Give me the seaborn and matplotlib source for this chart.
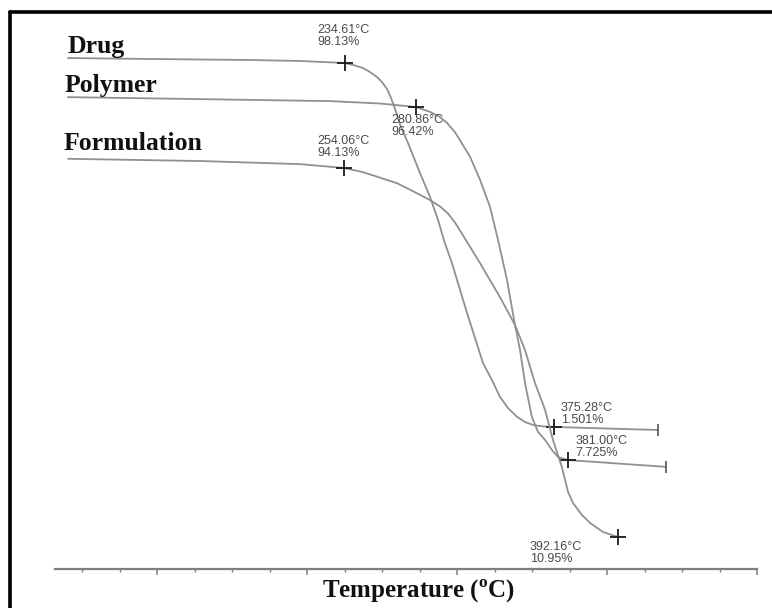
import matplotlib
matplotlib.use("Agg")
import matplotlib.pyplot as plt
from matplotlib.lines import Line2D
from matplotlib.ticker import MultipleLocator
import seaborn as sns

sns.set_style("white")
plt.rcParams["font.family"] = ["Liberation Sans", "DejaVu Sans"]
plt.rcParams["mathtext.fontset"] = "custom"
plt.rcParams["mathtext.rm"] = "Liberation Serif:bold"
plt.rcParams["mathtext.bf"] = "Liberation Serif:bold"

# ---- thermogram data (temperature in degC, residual mass in %) ----
drug_temp = [48.2, 103.4, 170.7, 204.3, 234.61, 241.3, 246.7, 251.4, 256.1, 259.5,
             262.9, 265.6, 268.3, 272.3, 277.0, 285.1, 291.8, 297.2, 301.2, 306.6,
             316.7, 327.5, 333.5, 338.9, 344.3, 350.4, 355.8, 361.1, 367.9, 375.28,
             445.3]
drug_mass = [99.45, 99.19, 98.92, 98.66, 98.13, 97.46, 96.80, 95.74, 94.41, 93.08,
             91.22, 88.83, 85.91, 81.1, 76.9, 68.9, 62.6, 56.5, 51.1, 45.0,
             31.8, 18.5, 13.97, 9.5, 6.54, 4.2, 2.82, 2.03, 1.65, 1.501,
             0.7]

polymer_temp = [50.8, 138.1, 224.0, 257.1, 280.86, 290.1, 296.7, 301.4, 306.6, 309.9,
                316.6, 323.2, 329.8, 335.1, 341.0, 346.3, 349.6, 352.9, 357.5, 361.5,
                366.1, 370.8, 374.7, 381.00, 446.1]
polymer_mass = [98.9, 98.4, 97.9, 97.3, 96.42, 95.2, 93.9, 92.4, 90.1, 88.1,
                83.9, 78.1, 71.3, 63.0, 53.0, 41.6, 35.4, 27.1, 18.5, 14.8,
                12.8, 10.2, 8.5, 7.725, 6.0]

formulation_temp = [115.0, 181.5, 231.9, 254.06, 263.6, 280.8, 288.8, 297.4, 302.5, 306.5,
                    310.0, 313.0, 316.1, 322.6, 332.7, 340.3, 345.3, 350.3, 355.4, 359.4,
                    363.9, 367.0, 369.5, 374.0, 378.1, 384.6, 392.16]
formulation_mass = [96.2, 95.7, 95.0, 94.13, 93.2, 90.7, 88.9, 86.9, 85.45, 83.87,
                    81.84, 79.7, 77.44, 72.7, 65.0, 58.7, 53.1, 45.7, 39.6, 32.8,
                    26.7, 21.1, 18.6, 15.9, 14.1, 12.07, 10.95]

# onset / end points marked on each thermogram
drug_onset = (234.61, 98.13)
drug_end = (375.28, 1.501)
polymer_onset = (280.86, 96.42)
polymer_end = (381.00, 7.725)
formulation_onset = (254.06, 94.13)
formulation_end = (392.16, 10.95)

# each thermogram is overlaid with its own temperature / mass scaling
drug_xlim, drug_ylim = (39.42, 511.92), (-36.20, 109.54)
polymer_xlim, polymer_ylim = (42.25, 506.25), (-19.66, 118.28)
formulation_xlim, formulation_ylim = (108.40, 462.23), (3.73, 127.49)

# shared temperature axis (ticks only, no labels)
axis_limits = (32, 500)

curve_color = "#909090"
text_color = "#4a4a4a"

fig = plt.figure(figsize=(7.72, 6.08), dpi=100)
rect = [55 / 772, 39 / 608, 702 / 772, 549 / 608]

base = fig.add_axes(rect)
base.set_xlim(*axis_limits)
base.set_ylim(0, 1)
base.xaxis.set_major_locator(MultipleLocator(100))
base.xaxis.set_minor_locator(MultipleLocator(25))
for side in ("left", "right", "top"):
    base.spines[side].set_visible(False)
base.spines["bottom"].set_color("#7f7f7f")
base.spines["bottom"].set_linewidth(1.6)
base.tick_params(axis="x", which="major", direction="out", length=4.5, width=1.1,
                 color="#7f7f7f", labelbottom=False, bottom=True)
base.tick_params(axis="x", which="minor", direction="out", length=2.5, width=1.0,
                 color="#7f7f7f", bottom=True)
base.tick_params(axis="y", left=False, labelleft=False)
base.set_facecolor("none")
base.set_xlabel(r"Temperature ($^{\mathbf{o}}$C)", fontsize=18, fontweight="bold",
                family="Liberation Serif", color="#111111")
base.xaxis.set_label_coords(0.518, -0.016)
base.xaxis.label.set_va("top")


def fmt(point):
    return f"{point[0]:.2f}°C\n{point[1]:g}%"


def draw_curve(name, temp, mass, xlim, ylim, onset, end, onset_off, end_off,
               name_off, tail=True):
    ax = fig.add_axes(rect)
    ax.set_xlim(*xlim)
    ax.set_ylim(*ylim)
    ax.set_axis_off()
    ax.patch.set_alpha(0)
    sns.lineplot(x=temp, y=mass, ax=ax, color=curve_color, linewidth=1.3,
                 estimator=None, sort=False, legend=False)
    ax.plot([onset[0], end[0]], [onset[1], end[1]], linestyle="none", marker="+",
            markersize=12, markeredgewidth=1.3, color="#1a1a1a")
    if tail:
        ax.plot([temp[-1]], [mass[-1]], linestyle="none", marker="|",
                markersize=9, markeredgewidth=1.2, color="#555555")
    for point, off in ((onset, onset_off), (end, end_off)):
        ax.annotate(fmt(point), xy=point, xytext=off[:2], textcoords="offset pixels",
                    ha="left", va=off[2], fontsize=9, color=text_color,
                    linespacing=0.95)
    ax.annotate(name, xy=(temp[0], mass[0]), xytext=name_off, textcoords="offset pixels",
                ha="left", va="baseline", fontsize=18.5, fontweight="bold",
                family="Liberation Serif", color="#111111")
    return ax


draw_curve("Drug", drug_temp, drug_mass, drug_xlim, drug_ylim,
           drug_onset, drug_end, (-28, 15, "bottom"), (7, 1, "bottom"), (0, 5))
draw_curve("Polymer", polymer_temp, polymer_mass, polymer_xlim, polymer_ylim,
           polymer_onset, polymer_end, (-25, -7, "top"), (8, 1, "bottom"), (-3, 5))
draw_curve("Formulation", formulation_temp, formulation_mass, formulation_xlim,
           formulation_ylim, formulation_onset, formulation_end,
           (-27, 9, "bottom"), (-88, -4, "top"), (-5, 9), tail=False)

# page frame (top and left edges)
fig.add_artist(Line2D([10 / 772, 1.0], [1 - 12 / 608, 1 - 12 / 608],
                      transform=fig.transFigure, color="black", linewidth=2.6))
fig.add_artist(Line2D([10 / 772, 10 / 772], [0.0, 1 - 12 / 608],
                      transform=fig.transFigure, color="black", linewidth=2.6))

fig.savefig("out.png", dpi=100, facecolor="white")
